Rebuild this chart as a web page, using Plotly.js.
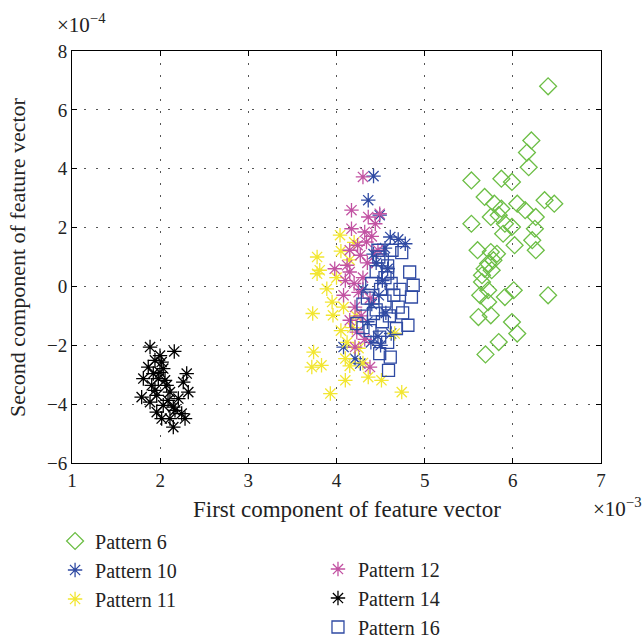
<!DOCTYPE html>
<html>
<head>
<meta charset="utf-8">
<script src="https://cdn.plot.ly/plotly-3.0.1.min.js"></script>
<style>
  html, body { margin: 0; padding: 0; background: #fff; }
  #chart { width: 643px; height: 639px; }
</style>
</head>
<body>
<div id="chart"></div>
<script>
// x values in units of 1e-3, y values in units of 1e-4
const p6x = [6.40, 6.21, 6.16, 6.18, 5.53, 5.87, 5.99, 5.68, 5.79, 5.87, 5.84, 5.75, 6.05, 6.14, 6.36, 6.47, 6.26, 6.25, 5.53, 5.91, 5.99, 5.89, 6.02, 6.22, 6.26, 5.60, 5.75, 5.82, 5.78, 5.72, 5.68, 5.76, 5.65, 5.65, 5.72, 5.63, 6.01, 5.91, 6.40, 5.72, 5.61, 5.75, 5.99, 6.05, 5.84, 5.69];
const p6y = [6.80, 4.96, 4.55, 4.05, 3.60, 3.66, 3.55, 3.04, 2.81, 2.64, 2.42, 2.36, 2.81, 2.59, 2.93, 2.81, 2.36, 1.96, 2.13, 2.13, 2.02, 1.79, 1.40, 1.57, 1.23, 1.23, 1.17, 1.11, 0.89, 0.78, 0.60, 0.55, 0.38, 0.15, -0.13, -0.30, -0.13, -0.36, -0.30, -0.53, -1.04, -0.98, -1.21, -1.60, -1.89, -2.31];

const p10x = [4.42, 4.36, 4.49, 4.61, 4.78, 4.08, 4.27, 4.21, 4.55, 4.45, 4.52, 4.48, 4.40, 4.56, 4.35, 4.62, 4.50, 4.70, 4.42, 4.30, 4.58, 4.39, 4.47];
const p10y = [3.75, 2.93, 2.42, 1.68, 1.45, -2.06, -2.62, -2.45, 1.30, 0.80, 0.20, -0.30, -0.60, -0.90, -1.20, -1.60, -2.00, 1.60, 1.10, -0.10, 0.60, -1.90, -1.70];

const p11x = [4.04, 3.78, 3.81, 3.73, 3.89, 3.74, 3.72, 3.83, 4.10, 3.93, 4.74, 4.10, 4.36, 4.51, 4.66, 3.96, 3.95, 3.78, 4.05, 4.15, 4.20, 4.08, 4.18, 4.25, 4.12, 4.30, 4.00, 4.22, 4.05, 4.15];
const p11y = [1.74, 1.00, 0.55, -0.92, -0.08, -2.23, -2.74, -2.68, -3.19, -3.64, -3.59, -2.45, -3.08, -3.19, -1.60, -0.98, -0.53, 0.43, 1.20, 0.90, 1.50, -0.70, -1.40, -2.10, -1.90, -2.60, 0.30, -1.00, -1.50, -2.70];

const p12x = [4.30, 4.17, 4.36, 4.49, 4.17, 4.32, 4.44, 4.34, 4.15, 3.98, 4.12, 4.27, 4.47, 4.15, 4.08, 4.21, 4.15, 4.23, 4.21, 4.38, 4.30, 4.25, 4.35, 4.20, 4.28, 4.32, 4.40, 4.38, 4.10, 4.24];
const p12y = [3.72, 2.59, 2.36, 2.47, 1.96, 1.85, 2.13, 1.51, 1.23, 0.60, 0.72, 1.06, 1.23, 0.49, -0.30, -0.70, -1.15, -1.55, -2.06, -2.74, 0.30, -0.20, 0.80, 0.10, -1.00, -1.80, 1.70, -0.40, 0.20, 1.40];

const p14x = [1.885, 2.160, 1.941, 2.017, 1.865, 2.035, 1.922, 2.301, 1.809, 1.979, 2.262, 1.904, 2.074, 2.319, 1.790, 2.111, 1.961, 2.206, 1.885, 2.035, 2.149, 1.961, 2.244, 2.017, 2.282, 2.149, 2.111, 1.998, 2.055, 1.941, 2.089, 2.168, 1.998];
const p14y = [-2.06, -2.21, -2.51, -2.57, -2.74, -2.79, -2.96, -2.96, -3.13, -3.13, -3.25, -3.36, -3.36, -3.59, -3.76, -3.59, -3.70, -3.81, -3.93, -4.04, -4.10, -4.27, -4.32, -4.49, -4.49, -4.78, -4.49, -2.92, -3.19, -3.53, -3.87, -4.21, -2.35];

const p16x = [4.47, 4.63, 4.74, 4.83, 4.87, 4.85, 4.81, 4.68, 4.49, 4.23, 4.49, 4.61, 4.59, 4.42, 4.52, 4.58, 4.45, 4.55, 4.62, 4.40, 4.50, 4.65, 4.35, 4.55, 4.70, 4.45, 4.60, 4.30, 4.52, 4.38, 4.58, 4.48, 4.58, 4.72, 4.75, 4.30];
const p16y = [1.23, 1.23, 1.15, 0.49, 0.04, -0.36, -1.32, -1.43, -1.72, -1.26, -2.28, -2.40, -2.85, -0.92, 0.90, 0.70, 0.50, 0.30, 0.10, 0.10, -0.10, -0.30, -0.40, -0.50, -0.70, -0.80, -1.00, -0.60, -1.20, -1.50, -1.90, 1.00, 0.45, -0.10, -0.90, -1.40];

const names = ['Pattern 6', 'Pattern 10', 'Pattern 11', 'Pattern 12', 'Pattern 14', 'Pattern 16'];
const colors = ['#6cbe45', '#2f4aa3', '#f2e631', '#c252a2', '#000000', '#2f4aa3'];
const xTicks = [1, 2, 3, 4, 5, 6, 7];
const yTicks = [-6, -4, -2, 0, 2, 4, 6, 8];
const xTitle = 'First component of feature vector';
const yTitle = 'Second component of feature vector';

const xs = [p6x, p10x, p11x, p12x, p14x, p16x];
const ys = [p6y, p10y, p11y, p12y, p14y, p16y];
const symbols = ['diamond-open', 'asterisk-open', 'asterisk-open', 'asterisk-open', 'asterisk-open', 'square-open'];
const sizes = [13, 12, 12, 12, 12, 12];
const legends = ['legend', 'legend', 'legend', 'legend2', 'legend2', 'legend2'];

const traces = names.map((n, i) => ({
  type: 'scatter',
  mode: 'markers',
  name: n,
  x: xs[i],
  y: ys[i],
  legend: legends[i],
  marker: {
    symbol: symbols[i],
    size: sizes[i],
    color: colors[i],
    line: { color: colors[i], width: 1.3 }
  }
}));

const fam = 'Liberation Serif, Times New Roman, serif';
const tickFont = { family: fam, size: 19, color: '#222' };
const xTitleFont = { family: fam, size: 23, color: '#222' };
const yTitleFont = { family: fam, size: 22, color: '#222' };
const expFont = { family: fam, size: 21, color: '#222' };
const legFont = { family: fam, size: 20, color: '#222' };

const axisCommon = {
  automargin: false,
  showline: true,
  mirror: 'ticks',
  linecolor: '#000',
  linewidth: 1,
  ticks: 'inside',
  ticklen: 5,
  tickcolor: '#000',
  showgrid: true,
  gridcolor: '#555',
  gridwidth: 1,
  griddash: '2px,10px',
  zeroline: false,
  tickfont: tickFont
};

const layout = {
  width: 643,
  height: 639,
  margin: { l: 72, r: 42, t: 51, b: 176, autoexpand: false },
  paper_bgcolor: '#fff',
  plot_bgcolor: '#fff',
  font: tickFont,
  xaxis: Object.assign({}, axisCommon, { range: [1, 7], tickvals: xTicks }),
  yaxis: Object.assign({}, axisCommon, { range: [-6, 8], tickvals: yTicks }),
  legend: {
    x: -0.032, y: -0.142, xanchor: 'left', yanchor: 'top',
    font: legFont, bgcolor: 'rgba(0,0,0,0)', tracegroupgap: 0
  },
  legend2: {
    x: 0.465, y: -0.21, xanchor: 'left', yanchor: 'top',
    font: legFont, bgcolor: 'rgba(0,0,0,0)', tracegroupgap: 0
  },
  annotations: [
    { xref: 'paper', yref: 'paper', x: 0.519, y: -0.114, xanchor: 'center', yanchor: 'middle',
      text: xTitle, showarrow: false, font: xTitleFont },
    { xref: 'paper', yref: 'paper', x: -0.104, y: 0.5, xanchor: 'center', yanchor: 'middle',
      text: yTitle, textangle: -90, showarrow: false, font: yTitleFont },
    { xref: 'paper', yref: 'paper', x: -0.033, y: 1.03, xanchor: 'left', yanchor: 'bottom',
      text: '×10<sup>−4</sup>', showarrow: false, font: expFont },
    { xref: 'paper', yref: 'paper', x: 1.08, y: -0.07, xanchor: 'right', yanchor: 'top',
      text: '×10<sup>−3</sup>', showarrow: false, font: expFont }
  ],
  showlegend: true
};

Plotly.newPlot('chart', traces, layout, { displayModeBar: false, staticPlot: true });
</script>
</body>
</html>
